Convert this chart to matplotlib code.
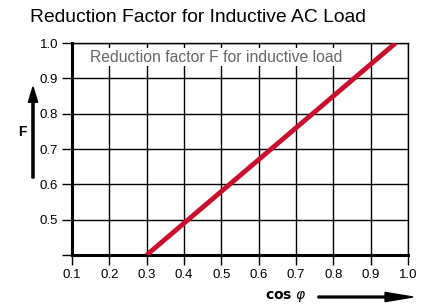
import numpy as np
import matplotlib.pyplot as plt
from matplotlib.patches import FancyArrow, Rectangle

plt.rcParams.update({
    'font.family': ['Liberation Sans', 'DejaVu Sans'],
    'xtick.labelsize': 9.5,
    'ytick.labelsize': 9.5,
})

# data
cos_phi = [0.3, 0.967]
factor = [0.4, 1.0]
x_ticks = [0.1, 0.2, 0.3, 0.4, 0.5, 0.6, 0.7, 0.8, 0.9, 1.0]
y_ticks = [0.4, 0.5, 0.6, 0.7, 0.8, 0.9, 1.0]
y_labels = ['', '0.5', '0.6', '0.7', '0.8', '0.9', '1.0']

fig = plt.figure(figsize=(4.3, 3.07), dpi=100)
ax = fig.add_axes([72 / 430, 1 - 255 / 307, 336 / 430, 212 / 307])

ax.set_xlim(0.1, 1.0)
ax.set_ylim(0.4, 1.0)
ax.set_xticks(x_ticks)
ax.set_yticks(y_ticks, y_labels)
ax.grid(True, color='black', linewidth=1.0)
ax.set_axisbelow(True)

ax.plot(cos_phi, factor, color='#c8102e', linewidth=3.5, solid_capstyle='butt', zorder=3)

for s in ['top', 'right']:
    ax.spines[s].set_linewidth(1.0)
for s in ['left', 'bottom']:
    ax.spines[s].set_linewidth(2.2)
ax.tick_params(axis='both', width=1.0, length=7, color='black', pad=3)

# white box behind the note, hiding the grid
ax.add_patch(Rectangle((0.1, 0.935), 0.785, 0.051, facecolor='white',
                       edgecolor='none', zorder=1))
ax.text(0.148, 0.96, 'Reduction factor F for inductive load', fontsize=11.3,
        color='#666666', va='center', ha='left', zorder=2)

fig.text(30 / 430, 1 - 17 / 307, 'Reduction Factor for Inductive AC Load',
         fontsize=13.9, va='center', ha='left')

# axis labels with arrows
fig.text(22 / 430, 1 - 132 / 307, 'F', fontsize=10, fontweight='bold',
         va='center', ha='center')
fig.add_artist(FancyArrow(
    33 / 430, 1 - 178 / 307, 0, 91 / 307, width=0.005, head_width=0.022,
    head_length=0.05, color='black', length_includes_head=True,
    transform=fig.transFigure))

fig.text(286 / 430, 1 - 297 / 307, r'$\mathbf{cos}\ \varphi$', fontsize=10,
         va='center', ha='center')
fig.add_artist(FancyArrow(
    318 / 430, 1 - 297 / 307, 95 / 430, 0, width=0.006, head_width=0.03,
    head_length=0.065, color='black', length_includes_head=True,
    transform=fig.transFigure))

fig.savefig('out.png', dpi=100)
